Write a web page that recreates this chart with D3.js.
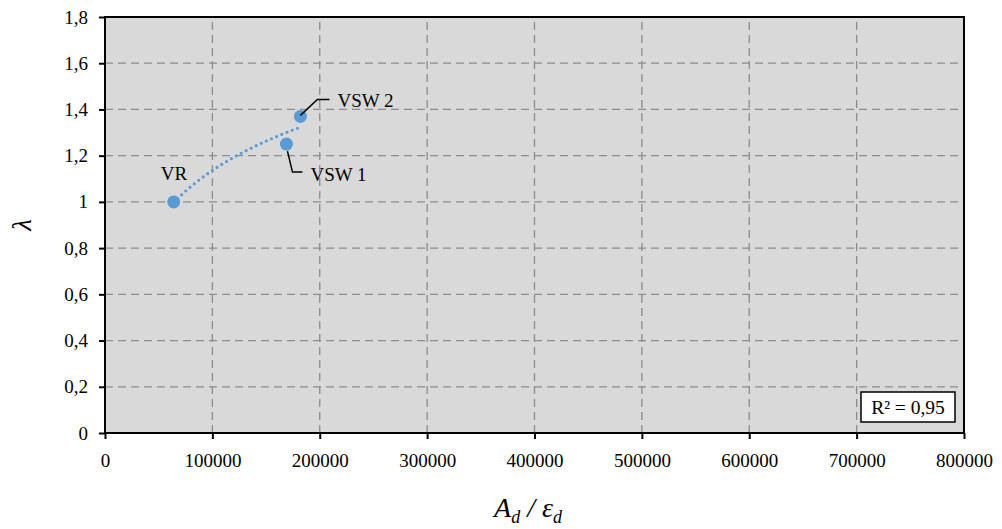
<!DOCTYPE html>
<html><head><meta charset="utf-8">
<script src="https://cdn.jsdelivr.net/npm/d3@7"></script>
<style>html,body{margin:0;padding:0;background:#fff;}svg{display:block;}
svg text{font-family:"Liberation Serif","Times New Roman",Tinos,"DejaVu Serif",serif;}
</style>
</head><body>
<script>
const names = ["VR", "VSW 1", "VSW 2"];
const xValues = [64000, 169000, 182000];
const yValues = [1.0, 1.25, 1.37];
const xTicks = [0, 100000, 200000, 300000, 400000, 500000, 600000, 700000, 800000];
const yTicks = [0, 0.2, 0.4, 0.6, 0.8, 1.0, 1.2, 1.4, 1.6, 1.8];
const r2Label = "R² = 0,95";

const W = 1002, H = 529;
const m = {left:105, right:1002-964, top:17, bottom:529-433};
const svg = d3.select("body").append("svg").attr("width", W).attr("height", H);
const x = d3.scaleLinear().domain([0, 800000]).range([m.left, W - m.right]);
const y = d3.scaleLinear().domain([0, 1.8]).range([H - m.bottom, m.top]);
const fmtY = v => (v === 0 || v === 1) ? String(v) : d3.format(".1f")(v).replace(".", ",");

svg.append("rect").attr("x", x(0)).attr("y", y(1.8)).attr("width", x(800000) - x(0)).attr("height", y(0) - y(1.8)).attr("fill", "#d9d9d9");

// grid
const g = svg.append("g");
g.selectAll(".gx").data(xTicks.slice(1, -1)).join("line")
  .attr("x1", d => x(d)).attr("x2", d => x(d)).attr("y1", y(0)).attr("y2", y(1.8))
  .attr("stroke", "#8c8c8c").attr("stroke-width", 1.3).attr("stroke-dasharray", "8,5");
g.selectAll(".gy").data(yTicks.slice(1, -1)).join("line")
  .attr("x1", x(0)).attr("x2", x(800000)).attr("y1", d => y(d)).attr("y2", d => y(d))
  .attr("stroke", "#8c8c8c").attr("stroke-width", 1.3).attr("stroke-dasharray", "8,5");

// axes
const xAxis = svg.append("g").attr("transform", `translate(0,${y(0)})`)
  .call(d3.axisBottom(x).tickValues(xTicks).tickFormat(d => String(d)).tickSize(6).tickPadding(11));
const yAxis = svg.append("g").attr("transform", `translate(${x(0)},0)`)
  .call(d3.axisLeft(y).tickValues(yTicks).tickFormat(fmtY).tickSize(6).tickPadding(11));
[xAxis, yAxis].forEach(a => {
  a.attr("font-family", null);
  a.select(".domain").remove();
  a.selectAll("line").attr("stroke", "#000").attr("stroke-width", 2);
  a.selectAll("text").attr("font-size", 19).attr("fill", "#000");
});
xAxis.selectAll("text").attr("dy", "0.9em");

// border
svg.append("rect").attr("x", x(0)).attr("y", y(1.8)).attr("width", x(800000) - x(0)).attr("height", y(0) - y(1.8))
  .attr("fill", "none").attr("stroke", "#000").attr("stroke-width", 2);

// logarithmic trendline via least squares
const lx = xValues.map(Math.log);
const mx = d3.mean(lx), my = d3.mean(yValues);
const a = d3.sum(lx.map((v, i) => (v - mx) * (yValues[i] - my))) / d3.sum(lx.map(v => (v - mx) ** 2));
const b = my - a * mx;
const xs = d3.range(0, 61).map(i => xValues[0] + (xValues[2] - xValues[0]) * i / 60);
svg.append("path").datum(xs)
  .attr("d", d3.line().x(d => x(d)).y(d => y(a * Math.log(d) + b)))
  .attr("fill", "none").attr("stroke", "#5b9bd5").attr("stroke-width", 3.2)
  .attr("stroke-linecap", "round").attr("stroke-dasharray", "0,5.6");

// points
svg.selectAll(".pt").data(xValues).join("circle")
  .attr("cx", d => x(d)).attr("cy", (d, i) => y(yValues[i])).attr("r", 6.5).attr("fill", "#5b9bd5");

// labels
const lab = svg.append("g").attr("font-size", 19).attr("fill", "#000");
lab.append("text").attr("x", x(xValues[0]) - 13).attr("y", y(yValues[0]) - 22).text(names[0]);
const p1 = [x(xValues[1]), y(yValues[1])];
svg.append("polyline").attr("points", `${p1[0]+1},${p1[1]+7} ${p1[0]+6},${p1[1]+28} ${p1[0]+16},${p1[1]+28}`)
  .attr("fill", "none").attr("stroke", "#000").attr("stroke-width", 1.5);
lab.append("text").attr("x", p1[0] + 24).attr("y", p1[1] + 37).text(names[1]);
const p2 = [x(xValues[2]), y(yValues[2])];
svg.append("polyline").attr("points", `${p2[0]},${p2[1]-1} ${p2[0]+17},${p2[1]-17} ${p2[0]+29},${p2[1]-17}`)
  .attr("fill", "none").attr("stroke", "#000").attr("stroke-width", 1.5);
lab.append("text").attr("x", p2[0] + 37).attr("y", p2[1] - 9).text(names[2]);

// R² box
svg.append("rect").attr("x", 861).attr("y", 392).attr("width", 94).attr("height", 30)
  .attr("fill", "#fff").attr("stroke", "#000").attr("stroke-width", 1.5);
svg.append("text").attr("x", 908).attr("y", 414).attr("text-anchor", "middle")
  .attr("font-size", 19.5).text(r2Label);

// axis titles
const xt = svg.append("text").attr("x", 528).attr("y", 517).attr("text-anchor", "middle")
  .attr("font-style", "italic").attr("font-size", 28);
xt.append("tspan").text("A");
xt.append("tspan").attr("font-size", 18).attr("dy", 6).text("d");
xt.append("tspan").attr("dy", -6).text(" / ε");
xt.append("tspan").attr("font-size", 18).attr("dy", 6).text("d");

svg.append("text").attr("transform", `translate(31,${y(0.9)}) rotate(-90)`).attr("text-anchor", "middle")
  .attr("font-style", "italic").attr("font-size", 27).text("λ");
</script>
</body></html>
